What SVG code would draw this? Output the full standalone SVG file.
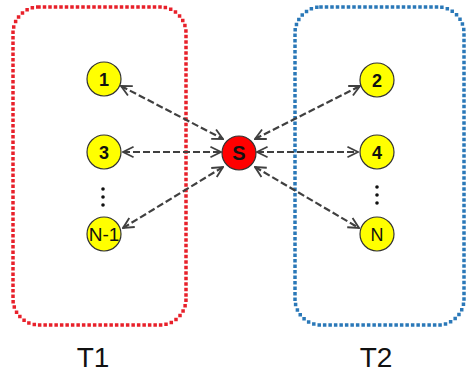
<svg xmlns="http://www.w3.org/2000/svg" width="467" height="374" viewBox="0 0 467 374">
  <defs>
    <marker id="arr" viewBox="0 0 10 10" refX="9" refY="5" markerWidth="6" markerHeight="6" orient="auto-start-reverse" markerUnits="strokeWidth">
      <path d="M1,1 L9,5 L1,9" fill="none" stroke="#404040" stroke-width="1.4"/>
    </marker>
  </defs>
  <style>
    .grp { fill: none; stroke-width: 3.5; stroke-dasharray: 0 5.5; stroke-linecap: square; }
    .node circle { fill: #ffff00; stroke: #333; stroke-width: 1.2; }
    .node text { font-family: "Liberation Sans", Arial, sans-serif; font-size: 18px; font-weight: bold; fill: #111; text-anchor: middle; }
    .hub circle { fill: #ff0000; stroke: #333; stroke-width: 1.2; }
    .hub text { font-family: "Liberation Sans", Arial, sans-serif; font-size: 20px; font-weight: bold; fill: #111; text-anchor: middle; }
    .edge { stroke: #404040; stroke-width: 2.2; stroke-dasharray: 7 3; fill: none; marker-start: url(#arr); marker-end: url(#arr); }
    .dots circle { fill: #111; }
    .lbl { font-family: "Liberation Sans", Arial, sans-serif; font-size: 28px; fill: #111; text-anchor: middle; }
  </style>
  <rect width="467" height="374" fill="#ffffff"/>

  <!-- group frames -->
  <g id="T1">
    <rect class="grp" x="13" y="7" width="173" height="318" rx="26" stroke="#e8202a"/>
    <text class="lbl" x="93" y="367">T1</text>
  </g>
  <g id="T2">
    <rect class="grp" x="295" y="7" width="169" height="318" rx="26" stroke="#2a78b8"/>
    <text class="lbl" x="376" y="367">T2</text>
  </g>

  <!-- connectors -->
  <g id="connectors">
    <line class="edge" x1="121" y1="86" x2="223" y2="139"/>
    <line class="edge" x1="123" y1="152" x2="221" y2="152"/>
    <line class="edge" x1="123" y1="228" x2="223" y2="167"/>
    <line class="edge" x1="255" y1="139" x2="360" y2="86"/>
    <line class="edge" x1="257" y1="152" x2="358" y2="152"/>
    <line class="edge" x1="255" y1="167" x2="359" y2="228"/>
  </g>

  <!-- ellipsis dots -->
  <g class="dots">
    <circle cx="103" cy="189" r="1.8"/>
    <circle cx="103" cy="197" r="1.8"/>
    <circle cx="103" cy="205" r="1.8"/>
    <circle cx="377" cy="187" r="1.8"/>
    <circle cx="377" cy="195" r="1.8"/>
    <circle cx="377" cy="203" r="1.8"/>
  </g>

  <!-- nodes -->
  <g id="n1" class="node"><circle cx="104" cy="79" r="17"/><text x="104" y="85.5">1</text></g>
  <g id="n3" class="node"><circle cx="104" cy="152" r="17"/><text x="104" y="158.5">3</text></g>
  <g id="nN-1" class="node"><circle cx="104" cy="234" r="17"/><text x="104" y="240.5" style="font-weight:normal;font-size:19px">N-1</text></g>
  <g id="n2" class="node"><circle cx="377" cy="80" r="17"/><text x="377" y="86.5">2</text></g>
  <g id="n4" class="node"><circle cx="377" cy="152" r="17"/><text x="377" y="158.5">4</text></g>
  <g id="nN" class="node"><circle cx="377" cy="234" r="17"/><text x="377" y="240.5" style="font-weight:normal">N</text></g>
  <g id="S" class="hub"><circle cx="239" cy="153" r="17"/><text x="239" y="160">S</text></g>
</svg>
